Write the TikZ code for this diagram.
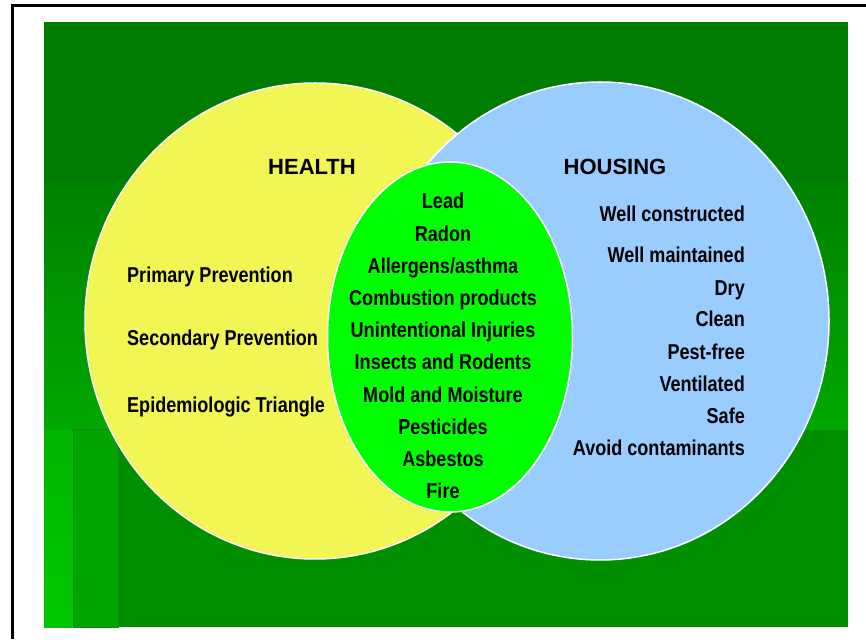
\documentclass[tikz,border=0pt]{standalone}
\usepackage{fontspec}
\setmainfont{Liberation Sans}
\newfontfamily\narrowsans[FakeStretch=0.84]{Liberation Sans}
\usetikzlibrary{shapes.geometric}
\definecolor{SlideGreen}{RGB}{0, 124, 0}
\definecolor{MidGreenTop}{RGB}{0, 130, 0}
\definecolor{MidGreenBottom}{RGB}{0, 168, 0}
\definecolor{BandGreen}{RGB}{0, 143, 0}
\definecolor{StripGreen}{RGB}{0, 165, 0}
\definecolor{EdgeGreen}{RGB}{20, 130, 20}
\definecolor{BrightGreen}{RGB}{0, 200, 0}
\definecolor{HealthYellow}{RGB}{241, 246, 84}
\definecolor{HousingBlue}{RGB}{153, 204, 255}
\definecolor{OverlapGreen}{RGB}{0, 255, 0}

\begin{document}
\begin{tikzpicture}[x=1pt, y=1pt,
    ring/.style={ellipse, inner sep=0pt, draw=white, line width=1.5pt},
    heading/.style={font=\fontsize{22}{26}\selectfont\bfseries, inner sep=0pt, anchor=base},
    item/.style={font=\narrowsans\fontsize{21.5}{24}\selectfont\bfseries, inner sep=0pt}]
    \useasboundingbox (0,0) rectangle (866,639);

    % Slide frame
    \draw[line width=3pt] (12,0) -- (12,633) -- (866,633);

    % Background bands
    \fill[SlideGreen] (44,456) rectangle (848,617);
    \shade[top color=MidGreenTop, bottom color=MidGreenBottom] (44,209) rectangle (848,456);
    \fill[BandGreen] (118,12) rectangle (848,209);
    \filldraw[fill=StripGreen, draw=EdgeGreen, line width=1pt] (73,12) rectangle (118,209);
    \shade[top color=MidGreenBottom!60!BrightGreen, bottom color=BrightGreen] (44,12) rectangle (72.5,209);

    % Health and housing circles, overlap on top
    \node[ring, fill=HealthYellow, minimum width=460pt, minimum height=476pt] (health) at (315,318) {};
    \node[ring, fill=HousingBlue, minimum width=458pt, minimum height=478pt] (housing) at (600,318) {};
    \node[ring, fill=OverlapGreen, minimum width=245pt, minimum height=350pt] (overlap) at (450,302) {};

    % Headings
    \node[heading] (healthtitle) at (312,464) {HEALTH};
    \node[heading] (housingtitle) at (615,464) {HOUSING};

    % Health side
    \foreach \txt/\y [count=\i] in {Primary Prevention/356.5, Secondary Prevention/293.5,
            Epidemiologic Triangle/226.5}
        \node[item, anchor=base west] (health\i) at (127,\y) {\txt};

    % Shared hazards
    \foreach \txt [count=\i] in {Lead, Radon, Allergens/asthma, Combustion products,
            Unintentional Injuries, Insects and Rodents, Mold and Moisture,
            Pesticides, Asbestos, Fire}
        \node[item, anchor=base] (hazard\i) at (443,462.2-32.2*\i) {\txt};

    % Housing side
    \foreach \txt/\y [count=\i] in {Well constructed/417.5, Well maintained/376.5,
            Dry/343.5, Clean/312.5, Pest-free/279.5, Ventilated/247.5,
            Safe/215.5, Avoid contaminants/183.5}
        \node[item, anchor=base east] (housing\i) at (745,\y) {\txt};
\end{tikzpicture}
\end{document}
